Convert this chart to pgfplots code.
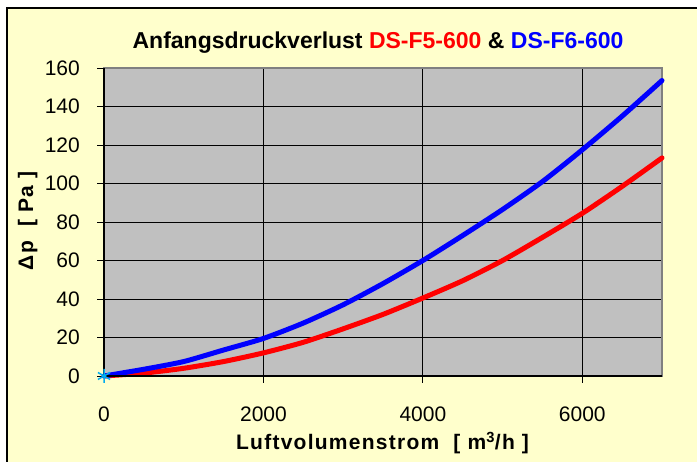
\documentclass[border=0pt]{standalone}
\usepackage{fontspec}
\setmainfont{Liberation Sans}
\usepackage{pgfplots}
\pgfplotsset{compat=1.18}
\definecolor{bgyellow}{HTML}{FFFFCC}
\definecolor{plotgray}{HTML}{C0C0C0}
\definecolor{framegray}{HTML}{808080}
\begin{document}
\begin{tikzpicture}[x=1bp,y=1bp]
\useasboundingbox (0,0) rectangle (697,462);
\fill[white] (0,0) rectangle (697,462);
\fill[bgyellow] (6.5,-10) rectangle (710,453.5);
\draw[black, line width=2bp] (6.5,-10) -- (6.5,453.5) -- (710,453.5);
\begin{axis}[
  at={(104bp,86bp)}, anchor=south west,
  scale only axis, width=558bp, height=308bp,
  xmin=0, xmax=7000, ymin=0, ymax=160,
  xtick={0,2000,4000,6000}, ytick={0,20,...,160},
  scaled x ticks=false,
  xticklabel={\pgfmathprintnumber[fixed,1000 sep={}]{\tick}},
  tick pos=left, tick align=outside, major tick length=7bp,
  tick style={black, line width=0.8bp},
  grid=major, major grid style={black, line width=0.9bp},
  axis background/.style={fill=plotgray},
  axis line style={framegray, line width=2bp},
  /pgf/number format/assume math mode=true,
  ticklabel style={font=\fontsize{21bp}{23bp}\selectfont, inner sep=0pt},
  yticklabel style={anchor=east, xshift=-17bp},
  xticklabel style={anchor=north, yshift=-24bp},
  clip=false,
]
\addplot[red, line width=5bp, smooth, tension=0.4, line join=round, line cap=round] coordinates {
(0,0) (500,1.5) (1000,4) (1500,7.5) (2000,12) (2500,17.5) (3000,24.5) (3500,32) (4000,40.5) (4500,49.5) (5000,60) (5500,72) (6000,84.5) (6500,98.5) (7000,113.3)};
\addplot[blue, line width=5bp, smooth, tension=0.4, line join=round, line cap=round] coordinates {
(0,0) (500,3.5) (1000,7.5) (1500,13.5) (2000,19.5) (2500,27.5) (3000,37) (3500,48) (4000,60) (4500,73) (5000,86.5) (5500,101) (6000,117.5) (6500,135) (7000,153.5)};
\addplot[only marks, cyan, mark=asterisk, mark size=7bp, mark options={line width=1.5bp}] coordinates {(0,0)};
\draw[black, line width=2bp] (rel axis cs:0,1) -- (rel axis cs:0,0) -- (rel axis cs:1,0);
\end{axis}
\node[anchor=base, font=\bfseries\fontsize{23bp}{26bp}\selectfont, inner sep=0pt] at (378,413.7)
  {Anfangsdruckverlust \textcolor{red}{DS-F5-600} \& \textcolor{blue}{DS-F6-600}};
\node[anchor=base, font=\bfseries\fontsize{21bp}{24bp}\selectfont\addfontfeature{LetterSpace=6}, inner sep=0pt] at (382.5,12)
  {Luftvolumenstrom\ \ [ m\textsuperscript{3}/h ]};
\node[anchor=base, rotate=90, font=\bfseries\fontsize{21bp}{24bp}\selectfont\addfontfeature{LetterSpace=6}, inner sep=0pt] at (33,241)
  {Δp\ \ [ Pa ]};
\end{tikzpicture}
\end{document}
